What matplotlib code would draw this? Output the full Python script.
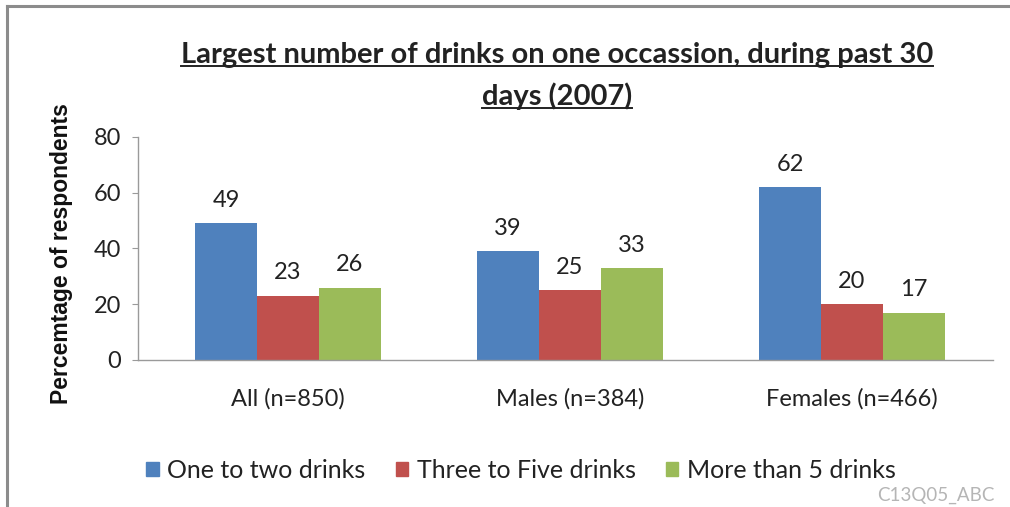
import matplotlib
matplotlib.use("Agg")
import matplotlib.pyplot as plt
from matplotlib.lines import Line2D
import numpy as np

categories = ["All (n=850)", "Males (n=384)", "Females (n=466)"]
series_names = ["One to two drinks", "Three to Five drinks", "More than 5 drinks"]
one_to_two = [49, 39, 62]
three_to_five = [23, 25, 20]
more_than_five = [26, 33, 17]
yticks = [0, 20, 40, 60, 80]

title_lines = ["Largest number of drinks on one occassion, during past 30",
               "days (2007)"]
ylabel = "Percemtage of respondents"
footer = "C13Q05_ABC"

colors = ["#4F81BD", "#C0504D", "#9BBB59"]
font = ["Lato", "DejaVu Sans"]

W, H = 1010, 507
fig = plt.figure(figsize=(W / 100, H / 100), dpi=100)
fig.patch.set_facecolor("white")

# outer chart frame: only the top and left edges fall inside the image
frame_kw = dict(transform=fig.transFigure, color="#8c8c8c", linewidth=2.2)
fig.add_artist(Line2D([7 / W, 1.0], [1 - 6 / H, 1 - 6 / H], **frame_kw))
fig.add_artist(Line2D([7 / W, 7 / W], [0.0, 1 - 6 / H], **frame_kw))

ax = fig.add_axes([138 / W, 1 - 360 / H, (993 - 138) / W, (360 - 137) / H])
x = np.arange(len(categories))
bw = 0.22
series = [one_to_two, three_to_five, more_than_five]
for i, (vals, name, c) in enumerate(zip(series, series_names, colors)):
    bars = ax.bar(x + (i - 1) * bw, vals, width=bw, color=c, label=name,
                  linewidth=0)
    for b, v in zip(bars, vals):
        ax.annotate(f"{v}", (b.get_x() + b.get_width() / 2, v),
                    xytext=(0, 9), textcoords="offset points",
                    ha="center", va="bottom", fontsize=17,
                    family=font, color="#222222")

ax.set_xlim(-0.5 - 9 / 282, 2.5)
ax.set_ylim(0, 80)
ax.set_yticks(yticks)
ax.set_yticklabels([str(t) for t in yticks], family=font, fontsize=17,
                   color="#222222")
ax.set_xticks(x)
ax.set_xticklabels(categories, family=font, fontsize=17, color="#222222")
ax.tick_params(axis="x", length=0, pad=20)
ax.tick_params(axis="y", length=4, color="#9a9a9a", pad=8)
for s in ["top", "right"]:
    ax.spines[s].set_visible(False)
for s in ["left", "bottom"]:
    ax.spines[s].set_color("#9a9a9a")
    ax.spines[s].set_linewidth(1.0)

fig.text(62 / W, 1 - 254 / H, ylabel, rotation=90, ha="center", va="center",
         fontsize=16.5, fontweight="bold",
         family=["Liberation Sans", "DejaVu Sans"], color="#111111")

# two-line underlined title
title_texts = []
for line, yc in zip(title_lines, [55, 96]):
    t = fig.text(557 / W, 1 - yc / H, line, ha="center", va="center",
                 fontsize=21, fontweight="bold", family=font, color="#222222")
    title_texts.append(t)

leg = fig.legend(handles=[plt.Rectangle((0, 0), 1, 1, color=c) for c in colors],
                 labels=series_names, loc="center", ncol=3,
                 bbox_to_anchor=(521 / W, 1 - 470 / H), frameon=False,
                 prop={"family": font, "size": 18}, handlelength=0.5,
                 handleheight=0.5, handletextpad=0.35, columnspacing=1.2)
for txt in leg.get_texts():
    txt.set_color("#222222")

fig.text(995 / W, 1 - 495 / H, footer, ha="right", va="center", fontsize=13.5,
         family=font, color="#b5b5b5")

fig.canvas.draw()
renderer = fig.canvas.get_renderer()
for t in title_texts:
    bb = t.get_window_extent(renderer)
    yline = bb.y0 + 2
    fig.add_artist(Line2D([bb.x0 / W, bb.x1 / W], [yline / H, yline / H],
                          transform=fig.transFigure, color="#222222",
                          linewidth=1.4))

fig.savefig("out.png", dpi=100, facecolor="white")
